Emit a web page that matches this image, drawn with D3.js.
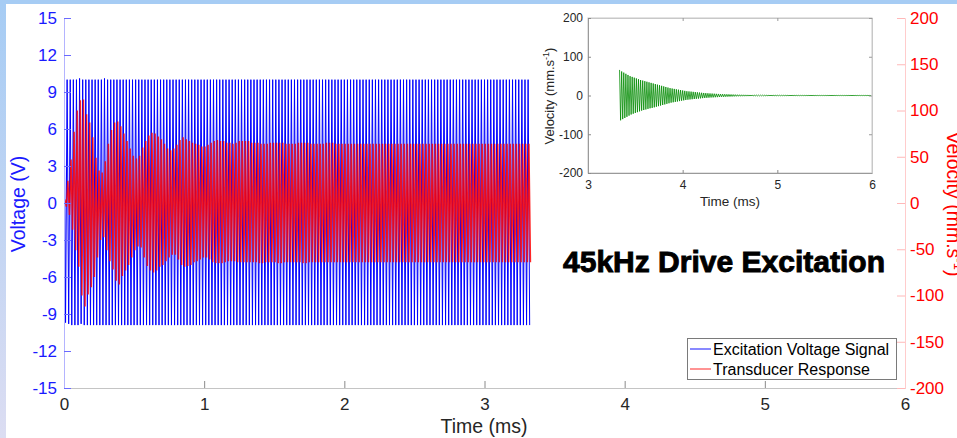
<!DOCTYPE html>
<html>
<head>
<meta charset="utf-8">
<script src="https://cdn.jsdelivr.net/npm/d3@7/dist/d3.min.js"></script>
<style>
  html, body { margin: 0; padding: 0; background: #ffffff; }
  svg { display: block; font-family: "Liberation Sans", Arial, sans-serif; }
</style>
</head>
<body>
<div id="chart"></div>
<script>
// drive frequency in cycles per ms (45 kHz)
const driveFreq = 45;

// peak / trough of each drive cycle
const voltageUpper = [
  10.1, 10.0, 10.0, 10.0, 10.0, 10.1, 10.0, 10.0, 10.0, 10.0,
  10.0, 10.0, 10.0, 10.1, 10.0, 10.0, 10.0, 10.0, 10.0, 10.0,
  10.0, 10.0, 10.0, 10.0, 10.0, 10.0, 10.0, 10.0, 10.0, 10.0,
  10.0, 10.0, 10.0, 10.0, 10.0, 10.0, 10.0, 10.0, 10.0, 10.0,
  10.0, 10.0, 10.0, 10.0, 10.0, 10.0, 10.0, 10.0, 10.0, 10.0,
  10.0, 10.0, 10.0, 10.0, 10.0, 10.0, 10.0, 10.0, 10.0, 10.0,
  10.0, 10.0, 10.0, 10.0, 10.0, 10.0, 10.0, 10.0, 10.0, 10.0,
  10.0, 10.0, 10.0, 10.0, 10.0, 10.0, 10.0, 10.0, 10.0, 10.0,
  10.0, 10.0, 10.0, 10.0, 10.0, 10.0, 10.0, 10.0, 10.0, 10.0,
  10.0, 10.0, 10.0, 10.0, 10.0, 10.0, 10.0, 10.0, 10.0, 10.0,
  10.0, 10.0, 10.0, 10.0, 10.0, 10.0, 10.0, 10.0, 10.0, 10.0,
  10.0, 10.0, 10.0, 10.0, 10.0, 10.0, 10.0, 10.0, 10.0, 10.0,
  10.0, 10.0, 10.0, 10.0, 10.0, 10.0, 10.0, 10.0, 10.0, 10.0,
  10.0, 10.0, 10.0, 10.0, 10.0, 10.0, 10.0, 10.0, 10.0, 10.0,
  10.0, 10.0, 10.0, 10.0, 10.0, 10.0, 10.0, 10.0, 10.0, 10.0
];
const voltageLower = [
  -9.7, -9.8, -9.9, -9.9, -9.9, -9.8, -9.9, -9.9, -9.9, -9.9,
  -9.9, -9.9, -9.9, -9.9, -9.9, -9.9, -9.9, -9.9, -9.9, -9.9,
  -9.9, -9.9, -9.9, -9.9, -9.9, -9.9, -9.9, -9.9, -9.9, -9.9,
  -9.9, -9.9, -9.9, -9.9, -9.9, -9.9, -9.9, -9.9, -9.9, -9.9,
  -9.9, -9.9, -9.9, -9.9, -9.9, -9.9, -9.9, -9.9, -9.9, -9.9,
  -9.9, -9.9, -9.9, -9.9, -9.9, -9.9, -9.9, -9.9, -9.9, -9.9,
  -9.9, -9.9, -9.9, -9.9, -9.9, -9.9, -9.9, -9.9, -9.9, -9.9,
  -9.9, -9.9, -9.9, -9.9, -9.9, -9.9, -9.9, -9.9, -9.9, -9.9,
  -9.9, -9.9, -9.9, -9.9, -9.9, -9.9, -9.9, -9.9, -9.9, -9.9,
  -9.9, -9.9, -9.9, -9.9, -9.9, -9.9, -9.9, -9.9, -9.9, -9.9,
  -9.9, -9.9, -9.9, -9.9, -9.9, -9.9, -9.9, -9.9, -9.9, -9.9,
  -9.9, -9.9, -9.9, -9.9, -9.9, -9.9, -9.9, -9.9, -9.9, -9.9,
  -9.9, -9.9, -9.9, -9.9, -9.9, -9.9, -9.9, -9.9, -9.9, -9.9,
  -9.9, -9.9, -9.9, -9.9, -9.9, -9.9, -9.9, -9.9, -9.9, -9.9,
  -9.9, -9.9, -9.9, -9.9, -9.9, -9.9, -9.9, -9.9, -9.9, -9.9
];

// transducer velocity (mm/s), right axis
const responseUpper = [
  4, 24, 47, 77, 100, 111, 112, 96, 87, 71,
  49, 35, 33, 45, 64, 79, 87, 88, 83, 75,
  67, 59, 51, 48, 51, 60, 67, 73, 76, 75,
  72, 69, 64, 59, 57, 59, 63, 68, 71, 69,
  67, 65, 64, 63, 61, 61, 63, 65, 67, 68,
  67, 67, 65, 65, 64, 65, 67, 67, 67, 67,
  65, 65, 65, 64, 64, 64, 65, 65, 65, 65,
  65, 64, 64, 64, 64, 65, 65, 65, 65, 64,
  64, 64, 64, 64, 65, 65, 65, 64, 64, 64,
  64, 64, 64, 64, 64, 64, 64, 64, 64, 64,
  64, 64, 64, 64, 64, 64, 64, 64, 64, 64,
  64, 64, 64, 64, 64, 64, 64, 64, 64, 64,
  64, 64, 64, 64, 64, 64, 64, 64, 64, 64,
  64, 64, 64, 64, 64, 64, 64, 64, 64, 64,
  64, 64, 64, 64, 64, 64, 64, 64, 64, 64
];
const responseLower = [
  -4, -13, -29, -51, -69, -100, -112, -99, -91, -80,
  -59, -40, -37, -51, -63, -72, -84, -88, -79, -73,
  -67, -59, -51, -47, -48, -59, -68, -73, -75, -73,
  -69, -67, -63, -59, -56, -56, -61, -67, -69, -68,
  -67, -64, -63, -61, -59, -59, -61, -64, -65, -65,
  -65, -64, -63, -63, -63, -64, -64, -64, -64, -64,
  -64, -64, -65, -65, -64, -64, -64, -64, -65, -65,
  -64, -64, -64, -64, -64, -64, -65, -65, -64, -64,
  -64, -64, -64, -64, -64, -64, -64, -64, -64, -64,
  -64, -64, -64, -64, -64, -64, -64, -64, -64, -64,
  -64, -64, -64, -64, -64, -64, -64, -64, -64, -64,
  -64, -64, -64, -64, -64, -64, -64, -64, -64, -64,
  -64, -64, -64, -64, -64, -64, -64, -64, -64, -64,
  -64, -64, -64, -64, -64, -64, -64, -64, -64, -64,
  -64, -64, -64, -64, -64, -64, -64, -64, -64, -64
];

// inset: ring-down after the drive stops (mm/s)
const ringUpper = [
  66, 62, 59, 56, 53, 50, 48, 46, 44, 42,
  40, 38.5, 37, 35.5, 34, 32.5, 31, 29.5, 28, 26.5,
  25, 23.5, 22, 20.5, 19, 18, 17, 16, 15, 14,
  13, 12, 11, 10.5, 10, 9.4, 8.8, 8.2, 7.6, 7.0,
  6.5, 6.1, 5.7, 5.3, 5.0, 4.6, 4.3, 4.0, 3.7, 3.5,
  3.2, 3.0, 2.8, 2.6, 2.4, 2.2, 2.0, 1.9, 1.8, 1.7,
  1.6, 1.5, 1.4, 1.3, 1.2, 1.2, 1.1, 1.0, 1.0, 0.9,
  0.9, 0.8, 0.8, 0.8, 0.7, 0.7, 0.7, 0.6, 0.6, 0.6,
  0.6, 0.5, 0.5, 0.5, 0.5, 0.5, 0.4, 0.4, 0.4, 0.4,
  0.4, 0.4, 0.4, 0.3, 0.3, 0.3, 0.3, 0.3, 0.3, 0.3,
  0.3, 0.3, 0.3, 0.3, 0.3, 0.3, 0.3, 0.3, 0.3, 0.3,
  0.3, 0.3, 0.3, 0.3, 0.3, 0.3, 0.3, 0.3, 0.3, 0.3
];
const ringLower = [
  -64, -61, -58, -55, -52, -49, -47, -45, -43, -41,
  -39, -37.5, -36, -34.5, -33, -32, -30.5, -29, -27.5, -26,
  -24.5, -23, -21.5, -20, -18.5, -17.5, -16.5, -15.5, -14.5, -13.5,
  -12.5, -11.5, -10.8, -10.2, -9.6, -9.0, -8.5, -8.0, -7.4, -6.8,
  -6.3, -5.9, -5.5, -5.1, -4.8, -4.5, -4.2, -3.9, -3.6, -3.4,
  -3.1, -2.9, -2.7, -2.5, -2.3, -2.1, -2.0, -1.9, -1.8, -1.7,
  -1.6, -1.5, -1.4, -1.3, -1.2, -1.2, -1.1, -1.0, -1.0, -0.9,
  -0.9, -0.8, -0.8, -0.8, -0.7, -0.7, -0.7, -0.6, -0.6, -0.6,
  -0.6, -0.5, -0.5, -0.5, -0.5, -0.5, -0.4, -0.4, -0.4, -0.4,
  -0.4, -0.4, -0.4, -0.3, -0.3, -0.3, -0.3, -0.3, -0.3, -0.3,
  -0.3, -0.3, -0.3, -0.3, -0.3, -0.3, -0.3, -0.3, -0.3, -0.3,
  -0.3, -0.3, -0.3, -0.3, -0.3, -0.3, -0.3, -0.3, -0.3, -0.3
];

const timeTicks = [0, 1, 2, 3, 4, 5, 6];
const voltageTicks = [-15, -12, -9, -6, -3, 0, 3, 6, 9, 12, 15];
const velocityTicks = [-200, -150, -100, -50, 0, 50, 100, 150, 200];
const insetTimeTicks = [3, 4, 5, 6];
const insetVelocityTicks = [-200, -100, 0, 100, 200];
const legendItems = [
  { label: "Excitation Voltage Signal", color: "#3a3aff" },
  { label: "Transducer Response", color: "#ff4a4a" }
];

const W = 957, H = 438;
const fmt = d => String(d);   // plain hyphen minus, like the original

const svg = d3.select("#chart").append("svg")
  .attr("width", W).attr("height", H)
  .attr("viewBox", `0 0 ${W} ${H}`);

const defs = svg.append("defs");
const bg = defs.append("linearGradient").attr("id", "leftband")
  .attr("x1", 0).attr("y1", 0).attr("x2", 0).attr("y2", 1);
bg.append("stop").attr("offset", 0).attr("stop-color", "#a6ccf4");
bg.append("stop").attr("offset", 1).attr("stop-color", "#dcddf2");

svg.append("rect").attr("width", W).attr("height", H).attr("fill", "#a6ccf4");
svg.append("rect").attr("x", 0).attr("y", 4).attr("width", 6).attr("height", H - 4).attr("fill", "url(#leftband)");
svg.append("rect").attr("x", 6).attr("y", 4).attr("width", W - 6).attr("height", H - 4).attr("fill", "#ffffff");

// main axes
const x = d3.scaleLinear().domain([0, 6]).range([64, 905]);
const yV = d3.scaleLinear().domain([-15, 15]).range([388, 18]);
const yR = d3.scaleLinear().domain([-200, 200]).range([388, 18]);

defs.append("clipPath").attr("id", "mainclip")
  .append("rect").attr("x", 64).attr("y", 18).attr("width", 841).attr("height", 370);

// zig-zag through cycle peaks and troughs
function cyclePoints(upper, lower, t0, phase) {
  const pts = [];
  upper.forEach((u, i) => {
    pts.push([t0 + (i + phase) / driveFreq, u]);
    pts.push([t0 + (i + phase + 0.5) / driveFreq, lower[i]]);
  });
  return pts;
}

const plot = svg.append("g").attr("clip-path", "url(#mainclip)");
plot.append("path")
  .datum(cyclePoints(voltageUpper, voltageLower, 0, 0))
  .attr("d", d3.line().x(d => x(d[0])).y(d => yV(d[1])))
  .attr("fill", "none").attr("stroke", "#0000ff").attr("stroke-width", 1);
plot.append("path")
  .datum(cyclePoints(responseUpper, responseLower, 0, 0.25))
  .attr("d", d3.line().x(d => x(d[0])).y(d => yR(d[1])))
  .attr("fill", "none").attr("stroke", "#ff0000").attr("stroke-width", 1.5)
  .attr("stroke-opacity", 0.85);

// bottom axis
const xAxis = svg.append("g").attr("transform", "translate(0,388)")
  .call(d3.axisBottom(x).tickValues(timeTicks).tickSize(-7).tickPadding(10).tickFormat(fmt));
xAxis.select(".domain").attr("stroke", "#c4c4c4");
xAxis.selectAll(".tick line").attr("stroke", "#8a8a8a");
xAxis.selectAll("text").attr("fill", "#262626").attr("font-size", "17px");

// left axis
const lAxis = svg.append("g").attr("transform", "translate(64,0)")
  .call(d3.axisLeft(yV).tickValues(voltageTicks).tickSize(-7).tickPadding(7).tickFormat(fmt));
lAxis.select(".domain").attr("stroke", "#b4b4ff");
lAxis.selectAll(".tick line").attr("stroke", "#6a6aff");
lAxis.selectAll("text").attr("fill", "#1a1aff").attr("font-size", "17px");

// right axis
const rAxis = svg.append("g").attr("transform", "translate(905,0)")
  .call(d3.axisRight(yR).tickValues(velocityTicks).tickSize(-8).tickPadding(5).tickFormat(fmt));
rAxis.select(".domain").attr("stroke", "#ffcccc");
rAxis.selectAll(".tick line").attr("stroke", "#ffb8b8");
rAxis.selectAll("text").attr("fill", "#ff0000").attr("font-size", "17px");

svg.append("text")
  .attr("x", 484).attr("y", 433).attr("text-anchor", "middle")
  .attr("fill", "#262626").attr("font-size", "19.5px").text("Time (ms)");
svg.append("text")
  .attr("transform", "translate(25,204) rotate(-90)").attr("text-anchor", "middle")
  .attr("fill", "#1a1aff").attr("font-size", "19.5px").text("Voltage (V)");
const rLabel = svg.append("text")
  .attr("transform", "translate(947,204) rotate(90)").attr("text-anchor", "middle")
  .attr("fill", "#ff0000").attr("font-size", "19.5px");
rLabel.append("tspan").text("Velocity (mm.s");
rLabel.append("tspan").attr("dy", -7).attr("font-size", "13px").text("-1");
rLabel.append("tspan").attr("dy", 7).text(")");

// legend
const lg = svg.append("g").attr("transform", "translate(687,338)");
lg.append("rect").attr("x", 0.5).attr("y", 0.5).attr("width", 209).attr("height", 41)
  .attr("fill", "#ffffff").attr("stroke", "#7a7a7a");
legendItems.forEach((it, i) => {
  const yy = 11 + i * 20;
  lg.append("line").attr("x1", 3).attr("x2", 24).attr("y1", yy).attr("y2", yy)
    .attr("stroke", it.color).attr("stroke-width", 1.2);
  lg.append("text").attr("x", 26).attr("y", yy + 6).attr("font-size", "16px")
    .attr("fill", "#000000").text(it.label);
});

// title
svg.append("text")
  .attr("x", 563).attr("y", 272).attr("textLength", 322).attr("lengthAdjust", "spacingAndGlyphs")
  .attr("font-size", "29px").attr("font-weight", 700)
  .attr("fill", "#000").attr("stroke", "#000").attr("stroke-width", 0.9)
  .text("45kHz Drive Excitation");

// inset
const ix = d3.scaleLinear().domain([3, 6]).range([588, 872]);
const iy = d3.scaleLinear().domain([-200, 200]).range([173, 18]);
const inset = svg.append("g");
inset.append("rect").attr("x", 588).attr("y", 18).attr("width", 284).attr("height", 155)
  .attr("fill", "#ffffff").attr("stroke", "#c8c8c8");

defs.append("clipPath").attr("id", "insetclip")
  .append("rect").attr("x", 588).attr("y", 18).attr("width", 284).attr("height", 155);
inset.append("path")
  .datum(cyclePoints(ringUpper, ringLower, voltageUpper.length / driveFreq, 0))
  .attr("clip-path", "url(#insetclip)")
  .attr("d", d3.line().x(d => ix(d[0])).y(d => iy(d[1])))
  .attr("fill", "none").attr("stroke", "#008a00").attr("stroke-width", 0.8);

const ixAxis = inset.append("g").attr("transform", "translate(0,173)")
  .call(d3.axisBottom(ix).tickValues(insetTimeTicks).tickSize(-3).tickPadding(7).tickFormat(fmt));
const ixTop = inset.append("g").attr("transform", "translate(0,18)")
  .call(d3.axisTop(ix).tickValues(insetTimeTicks).tickSize(-3).tickFormat(""));
const iyAxis = inset.append("g").attr("transform", "translate(588,0)")
  .call(d3.axisLeft(iy).tickValues(insetVelocityTicks).tickSize(-3).tickPadding(5).tickFormat(fmt));
const iyRight = inset.append("g").attr("transform", "translate(872,0)")
  .call(d3.axisRight(iy).tickValues(insetVelocityTicks).tickSize(-3).tickFormat(""));
[ixAxis, iyAxis].forEach(g => {
  g.select(".domain").attr("stroke", "#9a9a9a");
  g.selectAll(".tick line").attr("stroke", "#8a8a8a");
  g.selectAll("text").attr("fill", "#262626").attr("font-size", "12px");
});
[ixTop, iyRight].forEach(g => {
  g.select(".domain").attr("stroke", "#c8c8c8");
  g.selectAll(".tick line").attr("stroke", "#9a9a9a");
});

inset.append("text")
  .attr("x", 730).attr("y", 206).attr("text-anchor", "middle")
  .attr("fill", "#262626").attr("font-size", "13.5px").text("Time (ms)");
const iyLabel = inset.append("text")
  .attr("transform", "translate(554,96) rotate(-90)").attr("text-anchor", "middle")
  .attr("fill", "#262626").attr("font-size", "13px");
iyLabel.append("tspan").text("Velocity (mm.s");
iyLabel.append("tspan").attr("dy", -5).attr("font-size", "9px").text("-1");
iyLabel.append("tspan").attr("dy", 5).text(")");
</script>
</body>
</html>
